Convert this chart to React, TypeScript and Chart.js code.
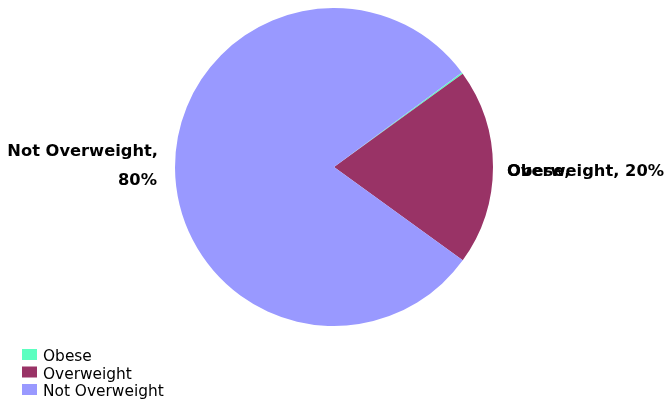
import React, { useEffect, useRef } from "react";
import { Chart, registerables } from "chart.js";

Chart.register(...registerables);

const categories = ["Obese", "Overweight", "Not Overweight"];
const values = [0.15, 20, 80];
const percentLabels = ["0%", "20%", "80%"];
const colors = ["#5CFFC0", "#993366", "#9999FF"];

const labelPlugin = {
  id: "customLabels",
  afterDraw(chart: any) {
    const ctx = chart.ctx;
    ctx.save();
    ctx.fillStyle = "#000";
    ctx.font = "bold 16.3px 'DejaVu Sans'";
    ctx.textBaseline = "middle";
    // Not Overweight label (left, two lines, right aligned)
    ctx.textAlign = "right";
    ctx.fillText(categories[2] + ",", 158, 152);
    ctx.fillText(percentLabels[2], 157, 181);
    // Overweight label (right)
    ctx.textAlign = "left";
    ctx.fillText(categories[1] + ", " + percentLabels[1], 507, 171.5);
    // Obese label overlapping
    ctx.fillText(categories[0] + ",", 507, 171.5);

    // Legend
    ctx.font = "15.4px 'DejaVu Sans'";
    ctx.textBaseline = "middle";
    ctx.textAlign = "left";
    for (let i = 0; i < categories.length; i++) {
      const y = 349 + i * 17.5;
      ctx.fillStyle = colors[i];
      ctx.fillRect(22, y, 15, 11);
      ctx.fillStyle = "#000";
      ctx.fillText(categories[i], 43, y + 8);
    }
    ctx.restore();
  },
};

export default function App() {
  const ref = useRef<HTMLCanvasElement>(null);
  useEffect(() => {
    document.body.style.margin = "0";
    const chart = new Chart(ref.current!, {
      type: "pie",
      data: {
        labels: categories,
        datasets: [
          {
            data: values,
            backgroundColor: colors,
            borderWidth: 0,
          },
        ],
      },
      options: {
        animation: false,
        responsive: false,
        rotation: 53.5,
        layout: { padding: { left: 175, right: 177, top: 8, bottom: 76 } },
        plugins: { legend: { display: false }, tooltip: { enabled: false } },
      },
      plugins: [labelPlugin],
    });
    return () => chart.destroy();
  }, []);
  return <canvas ref={ref} width={670} height={402} style={{ display: "block" }} />;
}
